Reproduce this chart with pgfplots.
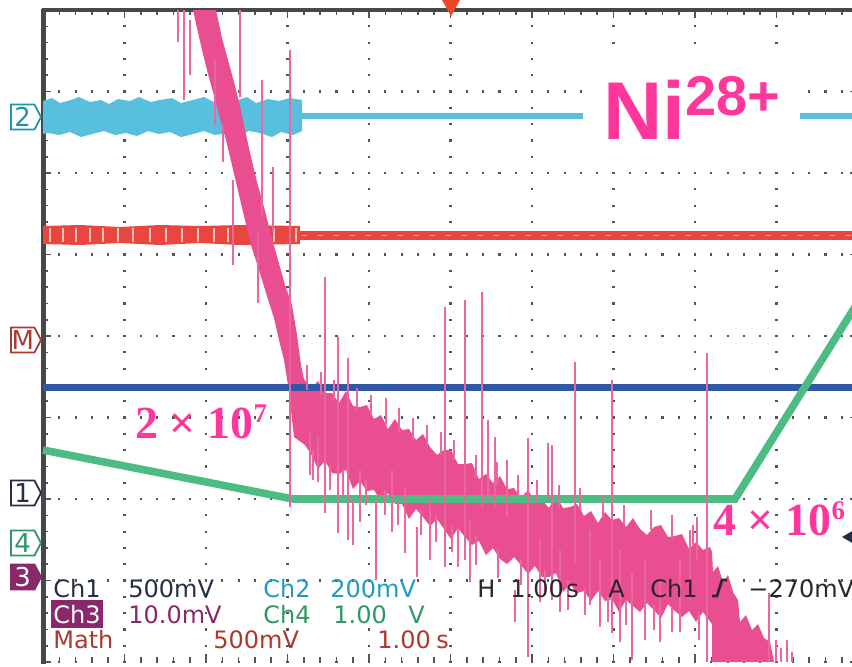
\documentclass[border=0pt]{standalone}
\usepackage{pgfplots}
\pgfplotsset{compat=1.18}
\usepackage{fontspec}
\usetikzlibrary{shapes.symbols}
\setmainfont{DejaVu Sans}
\newfontfamily\serifb{Liberation Serif}
\newfontfamily\sansb{Liberation Sans}

\definecolor{cyantr}{RGB}{88,192,222}
\definecolor{redtr}{RGB}{232,70,62}
\definecolor{redpale}{RGB}{246,196,180}
\definecolor{bluetr}{RGB}{48,88,165}
\definecolor{greentr}{RGB}{76,188,130}
\definecolor{pinktr}{RGB}{232,78,144}
\definecolor{pinkspk}{RGB}{234,102,158}
\definecolor{pinklab}{RGB}{255,54,156}
\definecolor{ch1c}{RGB}{38,46,70}
\definecolor{ch2c}{RGB}{36,152,196}
\definecolor{tag2}{RGB}{30,150,170}
\definecolor{ch3c}{RGB}{138,40,108}
\definecolor{ch4c}{RGB}{46,152,100}
\definecolor{mathc}{RGB}{172,56,46}
\definecolor{hc}{RGB}{40,40,44}
\definecolor{trig}{RGB}{236,72,40}
\definecolor{gridc}{RGB}{85,85,85}
\definecolor{spine}{RGB}{72,72,72}

\begin{document}
\begin{tikzpicture}
\begin{axis}[
  anchor=south west, at={(0,0)},
  x=0.5pt, y=0.5pt,
  xmin=43, xmax=858, ymin=10, ymax=662,
  y dir=reverse,
  clip=false,
  axis line style={draw=none},
  xtick={43,124.5,206,287.5,369,450.5,532,613.5,695,776.5,858},
  ytick={10,91.5,173,254.5,336,417.5,499,580.5,662},
  minor tick num=4,
  xticklabels={}, yticklabels={},
  tick align=inside,
  major tick length=4pt, minor tick length=2.5pt,
  tick style={gridc, line width=0.8pt},
  grid=major,
  major grid style={gridc, line width=1.1pt, dash pattern=on 1.1pt off 7.05pt, dash phase=0.55pt},
]
\coordinate (pageTL) at (axis cs:0,0);
\coordinate (pageBR) at (axis cs:852,666);

% spines
\draw[spine, line width=2.5pt] (axis cs:43,664) -- (axis cs:43,8.8);
\draw[spine, line width=2.2pt] (axis cs:41.8,10) -- (axis cs:860,10);

% Ch2 (cyan)
\addplot[fill=cyantr, draw=none] coordinates {
 (43,101) (52,98) (60,103) (71,100) (79,97) (90,102) (101,100) (109,104) (118,99) (130,101)
 (139,97) (151,102) (160,100) (172,98) (181,103) (193,100) (204,97) (214,102) (226,99) (235,101)
 (247,97) (256,103) (268,99) (279,101) (290,98) (302,100)
 (302,131) (293,135) (281,132) (272,137) (260,133) (249,131) (238,136) (227,133) (215,135) (204,131)
 (193,134) (181,137) (170,132) (159,134) (148,131) (137,136) (126,133) (115,135) (104,131) (92,134)
 (81,137) (70,132) (59,135) (48,133) (43,134)} -- cycle;
\addplot[cyantr, line width=3.4pt] coordinates {(301,116) (858,116)};

% Math (red)
\addplot[fill=redtr, draw=none] coordinates {
 (43,226) (80,225) (120,227) (160,225) (200,226) (240,225) (300,226)
 (300,244) (240,245) (200,243) (160,245) (120,243) (80,245) (43,244)} -- cycle;
\addplot[redpale, line width=0.7pt, unbounded coords=jump] coordinates {
 (50,228) (50,242) (50,nan) (63,228) (63,242) (63,nan) (76,228) (76,242) (76,nan)
 (90,228) (90,242) (90,nan) (103,228) (103,242) (103,nan) (118,228) (118,242) (118,nan)
 (133,228) (133,242) (133,nan) (150,228) (150,242) (150,nan) (166,228) (166,242) (166,nan)
 (182,228) (182,242) (182,nan) (198,228) (198,242) (198,nan) (214,228) (214,242) (214,nan)
 (228,228) (228,242) (228,nan) (256,228) (256,242) (256,nan) (274,228) (274,242) (274,nan)
 (296,228) (296,242)};
\addplot[redtr, line width=4.4pt] coordinates {(300,235.5) (858,235.5)};
\addplot[redpale, line width=0.6pt, dash pattern=on 2.5pt off 5.5pt, opacity=0.8] coordinates {(302,235.5) (858,235.5)};

% Ch3 (pink band)
\addplot[fill=pinktr, draw=none] coordinates {
 (193,10) (197,28) (202,50) (207,70) (213,92) (219,115) (226,140) (232,165) (239,195) (245,220)
 (251,245) (259,270) (267,296) (274,318) (279,340) (284,360) (288,385) (291,410) (294,437) (305,445)
 (311,454) (318,469) (325,461) (332,473) (339,474) (346,470) (353,489) (360,481) (367,491) (374,490)
 (381,501) (388,493) (395,504) (402,504) (409,519) (416,509) (423,517) (430,526) (437,519) (444,529)
 (451,539) (458,528) (465,537) (472,545) (479,541) (486,555) (493,548) (500,559) (507,564) (514,557)
 (521,565) (528,574) (535,566) (542,577) (549,577) (556,573) (563,592) (570,584) (577,593) (584,591)
 (591,601) (598,591) (605,601) (612,599) (619,612) (626,600) (633,606) (640,612) (647,603) (654,610)
 (661,618) (668,604) (675,611) (682,617) (689,611) (696,622) (703,612) (712,624)
 (712,662) (774,662) (770,642) (764,638) (758,624) (752,630) (746,615) (740,622) (738,600) (733,592)
 (728,575) (723,582) (718,566) (713,572)
 (712,552) (710,547) (703,550) (696,542) (689,549) (682,534) (675,536) (668,537) (661,525) (654,527)
 (647,535) (640,529) (633,518) (626,527) (619,518) (612,520) (605,512) (598,523) (591,511) (584,516)
 (577,504) (570,507) (563,508) (556,495) (549,508) (542,500) (535,501) (528,490) (521,498) (514,488)
 (507,489) (500,476) (493,483) (486,474) (479,479) (472,463) (465,464) (458,464) (451,450) (444,450)
 (437,455) (430,447) (423,434) (416,440) (409,429) (402,430) (395,419) (388,429) (381,415) (374,419)
 (367,405) (360,407) (353,406) (346,391) (339,403) (332,393) (325,393) (318,381) (311,389) (304,379)
 (301,365) (297,335) (292,305) (285,285) (278,260) (271,235) (264,207) (257,182) (251,157) (245,130)
 (240,106) (234,82) (228,60) (222,38) (216,10)} -- cycle;

% Ch1 (blue)
\addplot[bluetr, line width=3.5pt] coordinates {(43,387) (858,387)};

% Ch4 (green)
\addplot[greentr, line width=3.8pt] coordinates {(43,450) (293,499) (735,499) (858,302)};

% Ch3 spikes
\addplot[pinkspk, line width=1pt, unbounded coords=jump] coordinates {
 (178,10) (178,42) (178,nan) (184,10) (184,100) (184,nan) (190,20) (190,75) (190,nan)
 (215,60) (215,125) (215,nan) (223,125) (223,162) (223,nan) (233,180) (233,265) (233,nan)
 (240,10) (240,97) (240,nan) (258,233) (258,303) (258,nan) (262,80) (262,217) (262,nan)
 (273,167) (273,233) (273,nan) (290,50) (290,507) (290,nan) (310,433) (310,475) (310,nan)
 (318,437) (318,482) (318,nan) (325,277) (325,513) (325,nan) (338,337) (338,533) (338,nan)
 (348,358) (348,540) (348,nan) (353,500) (353,545) (353,nan) (360,470) (360,522) (360,nan)
 (376,500) (376,580) (376,nan) (392,470) (392,532) (392,nan) (405,487) (405,553) (405,nan)
 (417,527) (417,577) (417,nan) (430,500) (430,560) (430,nan) (445,307) (445,567) (445,nan)
 (458,527) (458,567) (458,nan) (465,300) (465,560) (465,nan) (470,520) (470,582) (470,nan)
 (482,292) (482,507) (482,nan) (488,420) (488,500) (488,nan) (495,437) (495,507) (495,nan)
 (507,460) (507,517) (507,nan) (515,590) (515,622) (515,nan) (528,438) (528,657) (528,nan)
 (540,540) (540,602) (540,nan) (548,443) (548,500) (548,nan) (552,445) (552,600) (552,nan)
 (560,550) (560,612) (560,nan) (575,362) (575,563) (575,nan) (590,530) (590,605) (590,nan)
 (600,560) (600,627) (600,nan) (612,380) (612,633) (612,nan) (620,550) (620,642) (620,nan)
 (632,573) (632,660) (632,nan) (645,560) (645,640) (645,nan) (660,580) (660,642) (660,nan)
 (680,560) (680,632) (680,nan) (690,530) (690,600) (690,nan) (697,517) (697,560) (697,nan)
 (707,353) (707,662) (707,nan) (769,593) (769,662) (769,nan) (776,640) (776,662) (776,nan)
 (781,648) (781,662) (781,nan) (787,640) (787,662) (787,nan) (792,652) (792,662)};
\addplot[pinkspk, line width=0.9pt, unbounded coords=jump] coordinates {
 (307,365) (307,390) (307,nan) (321,372) (321,395) (321,nan) (334,380) (334,400) (334,nan)
 (357,388) (357,410) (357,nan) (371,395) (371,415) (371,nan) (386,398) (386,425) (386,nan)
 (399,408) (399,432) (399,nan) (413,418) (413,440) (413,nan) (427,425) (427,445) (427,nan)
 (441,432) (441,455) (441,nan) (454,440) (454,460) (454,nan) (476,455) (476,478) (476,nan)
 (497,462) (497,485) (497,nan) (518,475) (518,495) (518,nan) (537,480) (537,502) (537,nan)
 (559,485) (559,508) (559,nan) (580,488) (580,510) (580,nan) (603,495) (603,518) (603,nan)
 (624,505) (624,525) (624,nan) (651,510) (651,530) (651,nan) (672,515) (672,538) (672,nan)
 (693,525) (693,545) (693,nan)
 (313,450) (313,480) (313,nan) (330,465) (330,490) (330,nan) (343,470) (343,495) (343,nan)
 (366,480) (366,505) (366,nan) (385,490) (385,515) (385,nan) (398,500) (398,525) (398,nan)
 (421,510) (421,535) (421,nan) (436,515) (436,542) (436,nan) (452,525) (452,552) (452,nan)
 (476,535) (476,565) (476,nan) (498,550) (498,578) (498,nan) (521,560) (521,585) (521,nan)
 (545,570) (545,595) (545,nan) (568,580) (568,610) (568,nan) (585,588) (585,615) (585,nan)
 (608,595) (608,622) (608,nan) (626,600) (626,625) (626,nan) (654,605) (654,630) (654,nan)
 (672,608) (672,632) (672,nan) (699,612) (699,640)};

% trigger markers
\fill[trig] (axis cs:442,0) -- (axis cs:460,0) -- (axis cs:451,16) -- cycle;
\fill[ch1c] (axis cs:842,537) -- (axis cs:854,530) -- (axis cs:854,544) -- cycle;

% channel tags
\tikzset{tag/.style={signal, signal to=east, signal pointer angle=125, line width=0.9pt,
  minimum width=15pt, minimum height=12.5pt, inner sep=0pt, anchor=east,
  font=\fontsize{13}{13}\selectfont}}
\node[tag, draw=tag2, text=tag2, fill=white] at (axis cs:42,117) {2};
\node[tag, draw=mathc, text=mathc, fill=white] at (axis cs:42,340) {M};
\node[tag, draw=ch1c, text=ch1c, fill=white] at (axis cs:42,493) {1};
\node[tag, draw=ch4c, text=ch4c, fill=white] at (axis cs:42,543) {4};
\node[tag, draw=ch3c, text=white, fill=ch3c] at (axis cs:42,577) {3};

% annotations
\node[fill=white, inner xsep=10pt, inner ysep=10pt, anchor=base west, text=pinklab,
  font=\sansb\bfseries\fontsize{41}{41}\selectfont] at (axis cs:583,139)
  {Ni\raisebox{12pt}{\fontsize{28}{28}\selectfont 28+}};
\node[inner sep=0pt, anchor=base west, text=pinklab, font=\serifb\bfseries\fontsize{23}{23}\selectfont]
  at (axis cs:135,438) {2 × 10\raisebox{8pt}{\fontsize{13.5}{13.5}\selectfont 7}};
\node[inner sep=0pt, anchor=base west, text=pinklab, font=\serifb\bfseries\fontsize{23}{23}\selectfont]
  at (axis cs:713,535) {4 × 10\raisebox{8pt}{\fontsize{13.5}{13.5}\selectfont 6}};

% scope readout
\tikzset{ro/.style={inner sep=0pt, anchor=base west, font=\fontsize{12}{12}\selectfont}}
\node[ro, text=ch1c] at (axis cs:53,597) {Ch1};
\node[ro, text=ch1c] at (axis cs:128,597) {500mV};
\node[ro, text=ch2c] at (axis cs:263,597) {Ch2};
\node[ro, text=ch2c] at (axis cs:330,597) {200mV};
\node[ro, text=hc] at (axis cs:477,597) {H};
\node[ro, text=hc] at (axis cs:510,597) {1.00};
\node[ro, text=hc] at (axis cs:566,597) {s};
\node[ro, text=hc] at (axis cs:608,597) {A};
\node[ro, text=hc] at (axis cs:650,597) {Ch1};
\draw[hc, line width=1.3pt] (axis cs:712,596) -- (axis cs:717,596) -- (axis cs:722,580) -- (axis cs:727,580);
\node[ro, text=hc] at (axis cs:748,597) {−270mV};
\node[ro, text=white, fill=ch3c, inner xsep=1pt, inner ysep=2.5pt] at (axis cs:51,623) {Ch3};
\node[ro, text=ch3c] at (axis cs:128,623) {10.0mV};
\node[ro, text=ch4c] at (axis cs:263,623) {Ch4};
\node[ro, text=ch4c] at (axis cs:333,623) {1.00};
\node[ro, text=ch4c] at (axis cs:408,623) {V};
\node[ro, text=mathc] at (axis cs:53,648) {Math};
\node[ro, text=mathc] at (axis cs:213,648) {500mV};
\node[ro, text=mathc] at (axis cs:377,648) {1.00};
\node[ro, text=mathc] at (axis cs:436,648) {s};
\end{axis}
\pgfresetboundingbox
\path[use as bounding box] (pageTL) rectangle (pageBR);
\end{tikzpicture}
\end{document}
